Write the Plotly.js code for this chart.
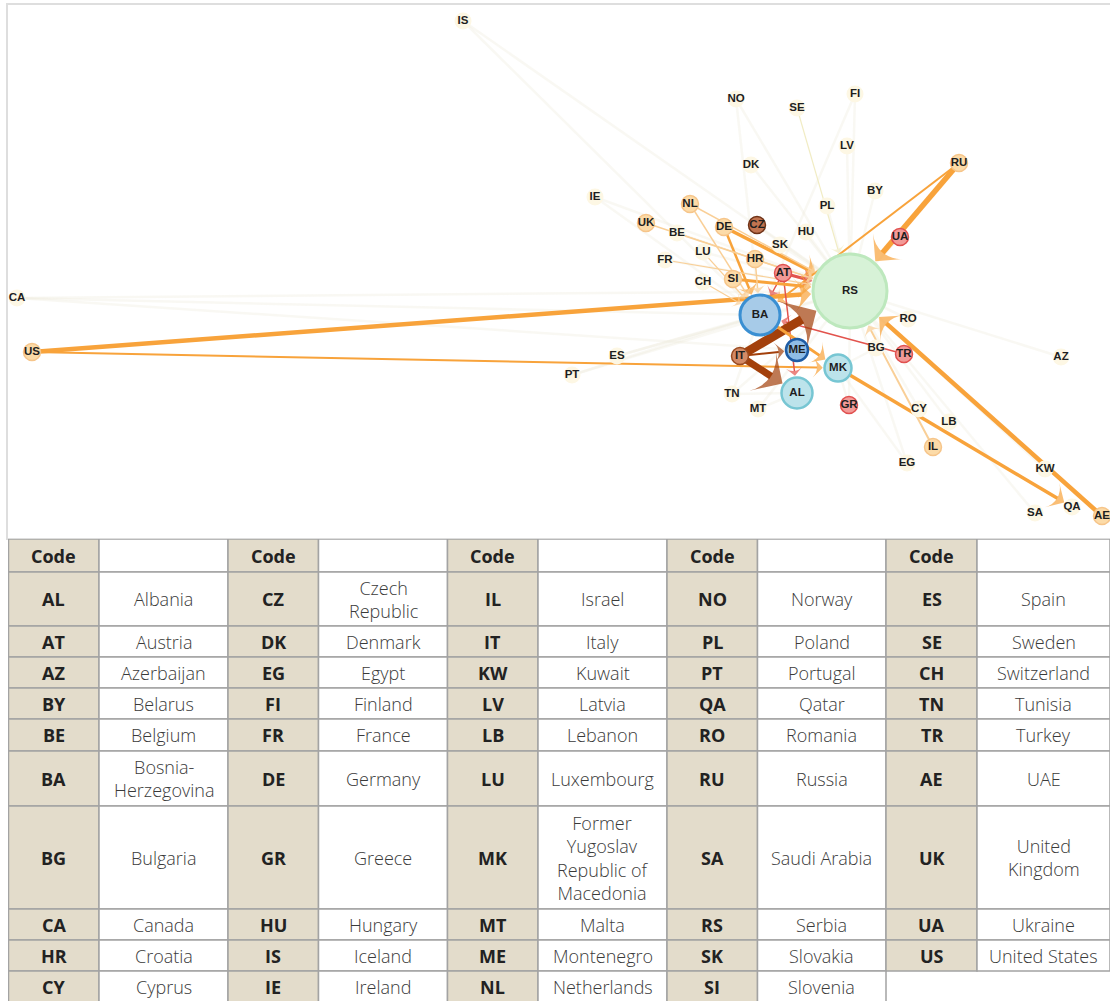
<!DOCTYPE html>
<html><head><meta charset="utf-8">
<script src="https://cdn.plot.ly/plotly-3.0.1.min.js"></script>
<style>html,body{margin:0;padding:0;background:#fff}#chart{width:1110px;height:1001px}</style>
</head><body><div id="chart"></div>
<script>
// ---------- network data ----------
const nodeCodes = ['RS','BA','ME','AL','MK','IT','AT','UA','TR','GR','CZ','DE','NL','UK','SI','HR','CH','US','RU','IL','AE','LB','CY','BG','RO','AZ','KW','QA','SA','EG','TN','MT','ES','PT','CA','IS','IE','NO','SE','FI','LV','DK','BY','PL','HU','SK','BE','LU','FR'];
const nodeX = [850,760,797,797,838,740,783,900,904,849,757,724,690,646,733,755,703,32,959,933,1102,949,919,876,908,1061,1045,1072,1035,907,732,758,617,572,17,463,595,736,797,855,847,751,875,827,806,780,677,703,665];
const nodeY = [291,315,350,393,368,356,273,237,354,405,225,227,204,223,279,259,282,352,163,447,516,422,409,348,319,357,469,507,513,463,394,409,356,375,298,21,197,99,108,94,146,165,191,206,232,245,233,252,260];
const nodeGroup = ['hub','ba','me','cyanL','cyanS','brownL','red','red','red','red','brownD','peach','peach','peach','peach','peach','cream','peach','peach','peach','peach','cream','cream','cream','cream','cream','cream','cream','cream','cream','cream','cream','cream','cream','cream','cream','cream','cream','cream','cream','cream','cream','cream','cream','cream','cream','cream','cream','cream'];

// main flows (source -> target, weight, tone)
const edgeSrc  = ['US','US','RU','RU','AE','MK','IL','TR','AT','AT','AT','IT','IT','IT','BA','DE','DE','NL','NL','UK','SI','FR','HR','CH','SE','BE','LU'];
const edgeTgt  = ['RS','MK','RS','BA','RS','QA','RS','BA','BA','AL','RS','RS','AL','ME','MK','RS','BA','BA','RS','RS','RS','RS','BA','BA','RS','RS','BA'];
const edgeW    = [4.5,2,5.5,2,4.5,3.5,2,1.5,1.5,1.5,3,9,7,2,3,3.5,2.5,1.5,1.5,1.5,3,1.2,1.5,1.2,1.2,1.2,1.2];
const edgeTone = ['o','o','o','o','o','o','l','r','r','r','r','b','b','b','o','o','o','l','l','l','o','l','l','l','y','l','l'];

// faint background links
const faintSrc = ['RS','RS','RS','RS','RS','RS','RS','RS','RS','RS','RS','RS','RS','RS','RS','RS','RS','RS','RS','RS','RS','RS','RS','RS','RS','RS','RS','RS','BA','BA','BA','BA','BA','BA','BA','BA','ME','MK','MK','MK','AL','AL'];
const faintTgt = ['IS','CA','NO','FI','LV','BY','PL','HU','SK','DK','IE','BE','LU','FR','EG','SA','KW','TN','MT','PT','ES','RO','GR','CY','AZ','CZ','UA','LB','IS','CA','IE','PT','ES','TN','NO','FI','CA','GR','BG','EG','MT','TN'];

// ---------- table data ----------
const codes1 = ['AL','AT','AZ','BY','BE','BA','BG','CA','HR','CY'];
const names1 = ['Albania','Austria','Azerbaijan','Belarus','Belgium','Bosnia-<br>Herzegovina','Bulgaria','Canada','Croatia','Cyprus'];
const codes2 = ['CZ','DK','EG','FI','FR','DE','GR','HU','IS','IE'];
const names2 = ['Czech<br>Republic','Denmark','Egypt','Finland','France','Germany','Greece','Hungary','Iceland','Ireland'];
const codes3 = ['IL','IT','KW','LV','LB','LU','MK','MT','ME','NL'];
const names3 = ['Israel','Italy','Kuwait','Latvia','Lebanon','Luxembourg','Former<br>Yugoslav<br>Republic of<br>Macedonia','Malta','Montenegro','Netherlands'];
const codes4 = ['NO','PL','PT','QA','RO','RU','SA','RS','SK','SI'];
const names4 = ['Norway','Poland','Portugal','Qatar','Romania','Russia','Saudi Arabia','Serbia','Slovakia','Slovenia'];
const codes5 = ['ES','SE','CH','TN','TR','AE','UK','UA','US',''];
const names5 = ['Spain','Sweden','Switzerland','Tunisia','Turkey','UAE','United<br>Kingdom','Ukraine','United States',''];
const headerLabel = 'Code';

// ---------- styles ----------
const groupStyle = {
  hub:   {size:74, fill:'#d7f2d7', line:'#bde8bd', lw:3},
  ba:    {size:40, fill:'#a7cbe8', line:'#3a8fd2', lw:3},
  me:    {size:22, fill:'#8fbde6', line:'#1e5ca5', lw:2.5},
  cyanL: {size:31, fill:'#bce3eb', line:'#77c6d3', lw:2.5},
  cyanS: {size:27, fill:'#bce3eb', line:'#77c6d3', lw:2.5},
  brownL:{size:17, fill:'#d38a66', line:'#9a4a20', lw:1.5},
  brownD:{size:17, fill:'#c27450', line:'#6e3318', lw:1.5},
  red:   {size:17, fill:'#f29a97', line:'#e0504f', lw:1.5},
  peach: {size:17, fill:'#fcdba8', line:'#f6c58a', lw:1.5},
  cream: {size:17, fill:'#fdf7e4', line:'#fdf7e4', lw:0}
};
const toneColor = {o:'#f8a33b', l:'#f9cf97', r:'#e2534d', b:'#a3400b', y:'#f1ecc4'};

const idx = {};
nodeCodes.forEach((c,i)=>idx[c]=i);
const radius = c => { const s = groupStyle[nodeGroup[idx[c]]]; return s.size/2 + s.lw/2 + 0.5; };

const traces = [];
// faint links
faintSrc.forEach((s,k)=>{
  const t = faintTgt[k];
  traces.push({type:'scatter', mode:'lines', x:[nodeX[idx[s]], nodeX[idx[t]]], y:[nodeY[idx[s]], nodeY[idx[t]]],
    line:{color:'rgba(238,235,220,0.35)', width:2.5}, hoverinfo:'skip', xaxis:'x', yaxis:'y'});
});
// flows with arrowheads
edgeSrc.forEach((s,k)=>{
  const t = edgeTgt[k], w = edgeW[k], col = toneColor[edgeTone[k]];
  traces.push({type:'scatter', mode:'lines+markers',
    x:[nodeX[idx[s]], nodeX[idx[t]]], y:[nodeY[idx[s]], nodeY[idx[t]]],
    line:{color:col, width:w},
    marker:{symbol:'arrow-wide', size:[0, 6 + 4*w], angleref:'previous', standoff:[0, radius(t)], color:col, line:{width:0}},
    hoverinfo:'skip', xaxis:'x', yaxis:'y'});
});
// nodes
traces.push({type:'scatter', mode:'markers+text', x:nodeX, y:nodeY,
  text: nodeCodes.map(c=>'<b>'+c+'</b>'), textposition:'middle center',
  textfont:{family:'Liberation Sans, Arial, sans-serif', size:11.5, color:'#1e1e1e'},
  marker:{size:nodeGroup.map(g=>groupStyle[g].size), color:nodeGroup.map(g=>groupStyle[g].fill),
    line:{color:nodeGroup.map(g=>groupStyle[g].line), width:nodeGroup.map(g=>groupStyle[g].lw)}, opacity:1},
  hoverinfo:'text', xaxis:'x', yaxis:'y'});

// ---------- table via shapes + annotations on x2/y2 ----------
const colEdges = [8.5, 99, 228, 318.5, 447.5, 538, 667, 757.5, 886, 977, 1110];
const rowEdges = [539, 572, 626, 657, 688, 719, 751, 806, 909, 940, 971, 1002];
const beige = '#e3dccb', gridCol = '#a3a3a3';
const codeCols = [codes1, codes2, codes3, codes4, codes5];
const nameCols = [names1, names2, names3, names4, names5];
const shapes = [], annotations = [];
const tFont = 'Open Sans, Noto Sans, sans-serif';
for (let r = 0; r < rowEdges.length - 1; r++) {
  for (let c = 0; c < 10; c++) {
    const pair = Math.floor(c/2), isCode = c % 2 === 0;
    let txt;
    if (r === 0) txt = isCode ? headerLabel : '';
    else txt = isCode ? codeCols[pair][r-1] : nameCols[pair][r-1];
    const emptyTail = (r > 0 && codeCols[pair][r-1] === '');
    if (emptyTail) continue;
    shapes.push({type:'rect', xref:'x2', yref:'y2', x0:colEdges[c], x1:colEdges[c+1], y0:rowEdges[r], y1:rowEdges[r+1],
      fillcolor: isCode ? beige : '#ffffff', line:{color:gridCol, width:1.5}, layer:'below'});
    if (txt) {
      annotations.push({xref:'x2', yref:'y2', x:(colEdges[c]+colEdges[c+1])/2, y:(rowEdges[r]+rowEdges[r+1])/2,
        text: isCode ? '<b>'+txt+'</b>' : txt, showarrow:false, xanchor:'center', yanchor:'middle', align:'center',
        font:{family:tFont, size:18, color: isCode ? '#222' : '#3a3a3a', weight: isCode ? 700 : 300}});
    }
  }
}

const layout = {
  width:1110, height:1001, margin:{l:8, r:0, t:5, b:0}, paper_bgcolor:'#fff', plot_bgcolor:'#fff', showlegend:false,
  xaxis:{domain:[0,1], range:[8,1110], showgrid:false, zeroline:false, showticklabels:false, ticks:'', showline:true, mirror:true, linecolor:'#dedede', linewidth:2, fixedrange:true, anchor:'y'},
  yaxis:{domain:[(1001-538)/996, 1], range:[538,5], showgrid:false, zeroline:false, showticklabels:false, ticks:'', showline:true, mirror:false, linecolor:'#dedede', linewidth:2, fixedrange:true, anchor:'x'},
  xaxis2:{domain:[0,1], range:[8,1110], visible:false, fixedrange:true, anchor:'y2'},
  yaxis2:{domain:[0,(1001-539)/996], range:[1001,539], visible:false, fixedrange:true, anchor:'x2'},
  shapes:shapes, annotations:annotations
};
// dummy trace so that x2/y2 exist
traces.push({type:'scatter', mode:'markers', x:[], y:[], xaxis:'x2', yaxis:'y2', hoverinfo:'skip'});

Plotly.newPlot('chart', traces, layout, {displayModeBar:false, staticPlot:true});
</script>
</body></html>
